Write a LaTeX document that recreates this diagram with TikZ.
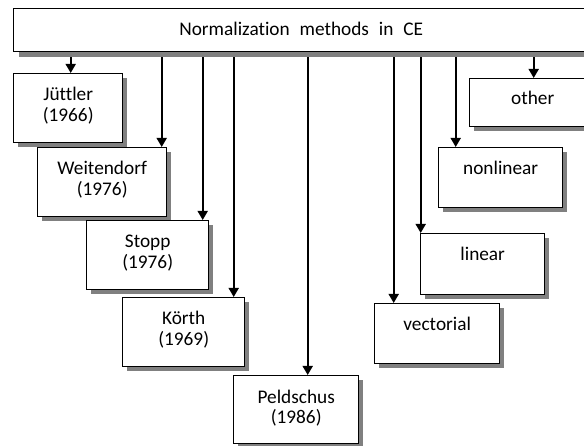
\documentclass[tikz,border=0pt]{standalone}
\usepackage{fontspec}
\setmainfont[Ligatures=NoCommon]{Carlito}
\usetikzlibrary{arrows.meta,shadows,backgrounds}
\begin{document}
\begin{tikzpicture}[x=1pt,y=-1pt,
  box/.style={draw=black, line width=1.4pt, fill=white, inner sep=0pt, anchor=north west,
    drop shadow={shadow xshift=4pt, shadow yshift=-4pt, fill=gray, opacity=1}},
  topbox/.style={draw=black, line width=1.4pt, fill=white, inner sep=0pt, anchor=north west,
    drop shadow={shadow xshift=5pt, shadow yshift=-5.5pt, fill=gray, opacity=1}},
  lbl/.style={anchor=base, inner sep=0pt, font=\fontsize{19.3pt}{21.5pt}\selectfont},
  arr/.style={line width=1.7pt, -{Triangle[width=10pt,length=9pt]}}]
\clip (0,0) rectangle (584,446);

% top box
\node[topbox, minimum width=575pt, minimum height=43pt] (top) at (13,8) {};
\node[lbl] (toptxt) at ([yshift=-27.3pt]top.north) {Normalization\hspace{5.5pt} methods\hspace{5.5pt} in\hspace{5.5pt} CE};

% boxes
\node[box, minimum width=109pt, minimum height=69pt] (jut) at (13,73) {};
\node[box, minimum width=129pt, minimum height=69pt] (wei) at (37,147) {};
\node[box, minimum width=122pt, minimum height=69pt] (sto) at (86,220) {};
\node[box, minimum width=122pt, minimum height=69pt] (kor) at (122,297) {};
\node[box, minimum width=125pt, minimum height=68pt] (pel) at (233,375) {};
\node[box, minimum width=125pt, minimum height=60pt] (vec) at (374,303) {};
\node[box, minimum width=124pt, minimum height=61pt] (lin) at (420,233) {};
\node[box, minimum width=124pt, minimum height=60pt] (non) at (438,147) {};
\node[box, minimum width=126pt, minimum height=48pt] (oth) at (469,78) {};

% labels
\node[lbl] (jut1) at ([yshift=-28pt]jut.north) {Jüttler};
\node[lbl] (jut2) at ([yshift=-49pt]jut.north) {(1966)};
\node[lbl] (wei1) at ([yshift=-28pt]wei.north) {Weitendorf};
\node[lbl] (wei2) at ([yshift=-49pt]wei.north) {(1976)};
\node[lbl] (sto1) at ([yshift=-28pt]sto.north) {Stopp};
\node[lbl] (sto2) at ([yshift=-49pt]sto.north) {(1976)};
\node[lbl] (kor1) at ([yshift=-28pt]kor.north) {Körth};
\node[lbl] (kor2) at ([yshift=-49pt]kor.north) {(1969)};
\node[lbl] (pel1) at ([yshift=-28pt]pel.north) {Peldschus};
\node[lbl] (pel2) at ([yshift=-49pt]pel.north) {(1986)};
\node[lbl] (vec1) at ([yshift=-28pt]vec.north) {vectorial};
\node[lbl] (lin1) at ([yshift=-27.5pt]lin.north) {linear};
\node[lbl] (non1) at ([yshift=-28pt]non.north) {nonlinear};
\node[lbl] (oth1) at ([yshift=-27pt]oth.north) {other};

% arrow end points
\coordinate (ajut) at ([xshift=2.5pt]jut.north);
\coordinate (awei) at ([xshift=59.5pt]wei.north);
\coordinate (asto) at ([xshift=55pt]sto.north);
\coordinate (akor) at ([xshift=50pt]kor.north);
\coordinate (apel) at ([xshift=11.5pt]pel.north);
\coordinate (avec) at ([xshift=-43.5pt]vec.north);
\coordinate (alin) at ([xshift=-62pt]lin.north);
\coordinate (anon) at ([xshift=-45pt]non.north);
\coordinate (aoth) at ([xshift=1pt]oth.north);

\begin{pgfonlayer}{background}
\fill[white] (0,0) rectangle (584,446);
\foreach \a in {ajut,awei,asto,akor,apel,avec,alin,anon,aoth}
  \draw[arr] (top.south -| \a) -- (\a);
\end{pgfonlayer}
\end{tikzpicture}
\end{document}
